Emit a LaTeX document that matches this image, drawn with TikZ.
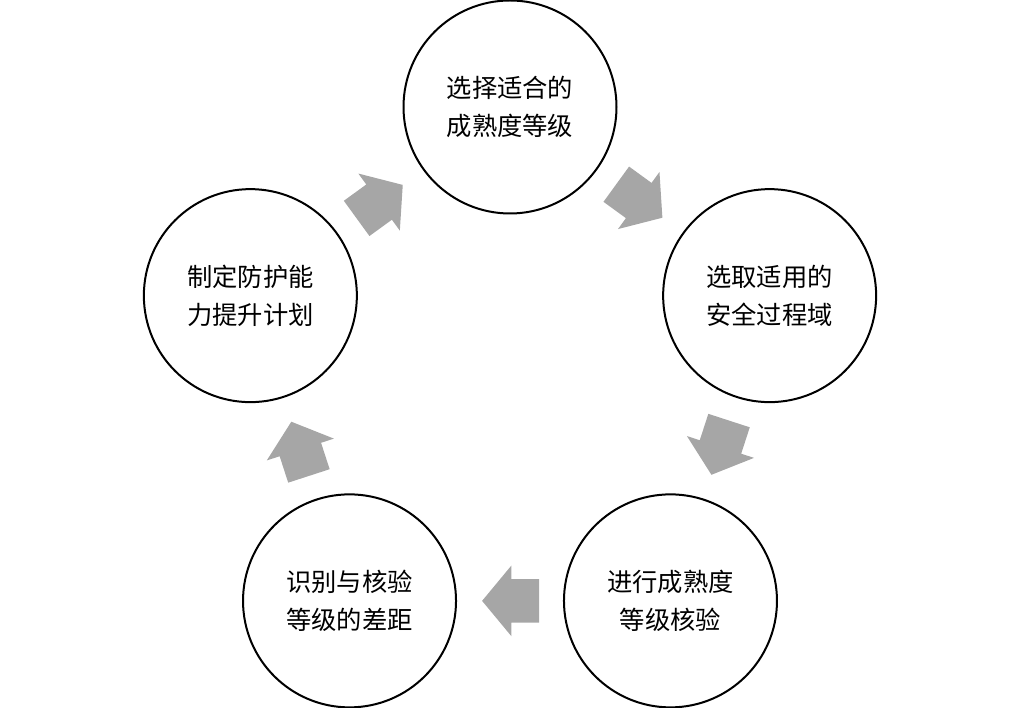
\documentclass[tikz,border=0pt]{standalone}
\usepackage{fontspec}
\setmainfont{Noto Sans CJK SC}
\usepackage{tikz}
\usetikzlibrary{arrows.meta, shapes.arrows, positioning}
\usepackage{xcolor}
\definecolor{arrowgray}{RGB}{166,166,166}

\begin{document}
\begin{tikzpicture}[
    stage/.style={circle, draw, line width=0.05cm, minimum size=5.325cm, align=center, font=\fontsize{18}{27}\selectfont},
    flow/.style={single arrow, fill=arrowgray, draw=none, inner xsep=0pt, inner ysep=0.5375cm,
        minimum height=1.425cm, single arrow head extend=0.3375cm, single arrow tip angle=100.7,
        sloped, allow upside down, pos=0.47}
]
    \useasboundingbox (0,0) rectangle (25.475,17.7);

    % Stages
    \node[stage] (S1) at (12.75, 15.025) {选择适合的\\成熟度等级};
    \node[stage] (S2) at (19.241, 10.309) {选取适用的\\安全过程域};
    \node[stage] (S3) at (16.762, 2.678) {进行成熟度\\等级核验};
    \node[stage] (S4) at (8.738, 2.678) {识别与核验\\等级的差距};
    \node[stage] (S5) at (6.259, 10.309) {制定防护能\\力提升计划};

    % Block arrows
    \path (S1.center) -- node[flow] (A12) {} (S2.center);
    \path (S2.center) -- node[flow] (A23) {} (S3.center);
    \path (S3.center) -- node[flow] (A34) {} (S4.center);
    \path (S4.center) -- node[flow] (A45) {} (S5.center);
    \path (S5.center) -- node[flow] (A51) {} (S1.center);
\end{tikzpicture}
\end{document}
